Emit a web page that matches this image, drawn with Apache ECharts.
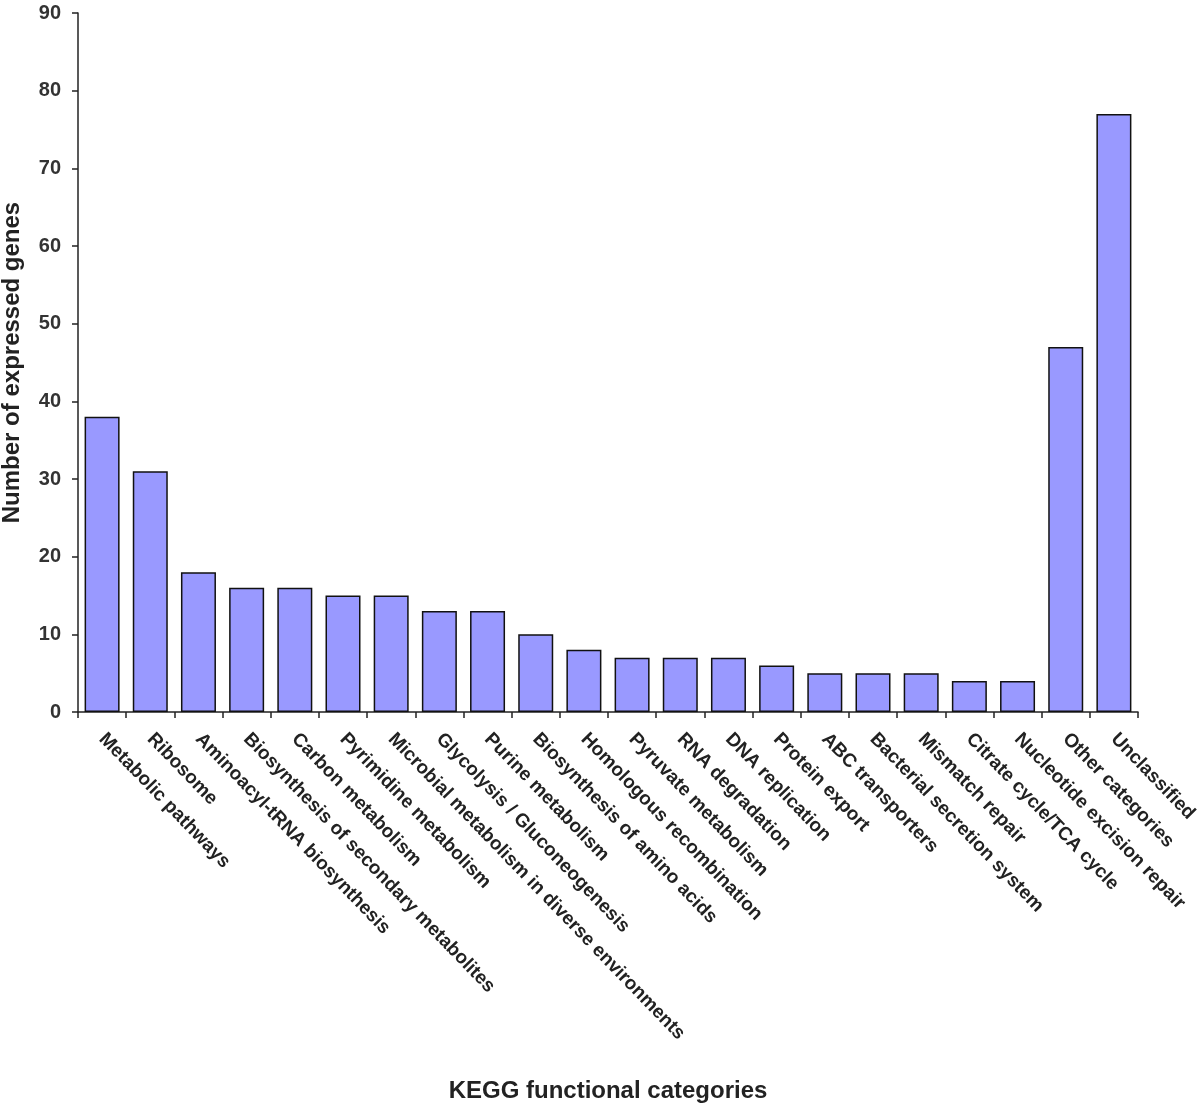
<!DOCTYPE html>
<html>
<head>
<meta charset="utf-8">
<script src="https://cdn.jsdelivr.net/npm/echarts@6/dist/echarts.min.js"></script>
<style>html,body{margin:0;padding:0;background:#fff;}#c{width:1200px;height:1106px;}</style>
</head>
<body>
<div id="c"></div>
<script>
const categories = ["Metabolic pathways","Ribosome","Aminoacyl-tRNA biosynthesis","Biosynthesis of secondary metabolites","Carbon metabolism","Pyrimidine metabolism","Microbial metabolism in diverse environments","Glycolysis / Gluconeogenesis","Purine metabolism","Biosynthesis of amino acids","Homologous recombination","Pyruvate metabolism","RNA degradation","DNA replication","Protein export","ABC transporters","Bacterial secretion system","Mismatch repair","Citrate cycle/TCA cycle","Nucleotide excision repair","Other categories","Unclassified"];
const values = [38,31,18,16,16,15,15,13,13,10,8,7,7,7,6,5,5,5,4,4,47,77];
const yTicks = [0,10,20,30,40,50,60,70,80,90];

const chart = echarts.init(document.getElementById('c'), null, {renderer:'canvas'});
chart.setOption({
  animation:false,
  backgroundColor:'#fff',
  grid:{left:78,right:62,top:13,bottom:394,containLabel:false,outerBoundsMode:'none'},
  xAxis:{
    type:'category',
    data:categories,
    name:'KEGG functional categories',
    nameLocation:'middle',
    nameGap:367,
    nameTextStyle:{fontFamily:'Liberation Sans, Arial',fontWeight:'bold',fontSize:24,color:'#222'},
    axisLine:{lineStyle:{color:'#222',width:1.5}},
    axisTick:{show:true,length:6,lineStyle:{color:'#222',width:1.5}},
    axisLabel:{rotate:-46,interval:0,margin:24,fontFamily:'Liberation Sans, Arial',fontWeight:'bold',fontSize:19,color:'#222'}
  },
  yAxis:{
    type:'value',
    min:0,max:90,interval:10,
    name:'Number of expressed genes',
    nameLocation:'middle',
    nameGap:54,
    nameRotate:90,
    nameTextStyle:{fontFamily:'Liberation Sans, Arial',fontWeight:'bold',fontSize:24,color:'#222'},
    axisLine:{show:true,lineStyle:{color:'#222',width:1.5}},
    axisTick:{show:true,length:6,lineStyle:{color:'#222',width:1.5}},
    splitLine:{show:false},
    axisLabel:{margin:17,fontFamily:'Liberation Sans, Arial',fontWeight:'bold',fontSize:20,color:'#333',
      formatter:function(v){return yTicks.indexOf(v)>=0?String(v):'';}}
  },
  series:[{
    type:'bar',
    data:values,
    barWidth:35,
    itemStyle:{color:'#9999FF',borderColor:'#111',borderWidth:1.5}
  }]
});
</script>
</body>
</html>
